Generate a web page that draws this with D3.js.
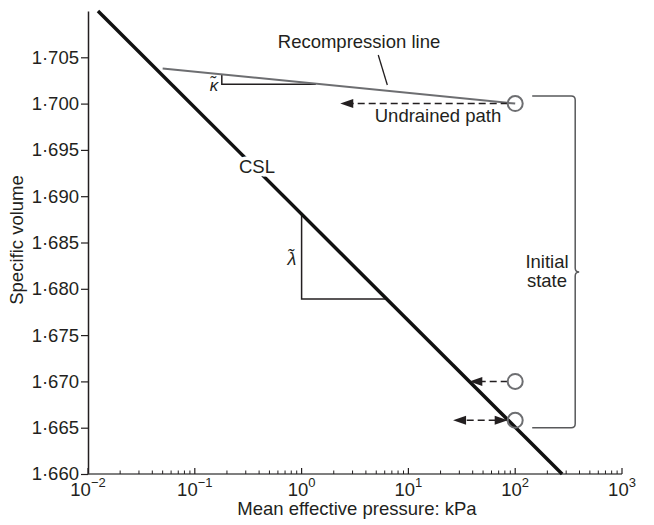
<!DOCTYPE html>
<html>
<head>
<meta charset="utf-8">
<script src="https://cdn.jsdelivr.net/npm/d3@7"></script>
<style>
  html, body { margin: 0; padding: 0; background: #fff; }
  svg text { font-family: "Liberation Sans", Arial, sans-serif; fill: #231f20; }
</style>
</head>
<body>
<svg id="chart" width="654" height="525"></svg>
<script>
// ---- data (p in kPa, v = specific volume) ----
const xTickValues = [0.01, 0.1, 1, 10, 100, 1000];
const xTickExponents = ["\u22122", "\u22121", "0", "1", "2", "3"];
const yTickValues = [1.660, 1.665, 1.670, 1.675, 1.680, 1.685, 1.690, 1.695, 1.700, 1.705];
const cslLine = [{p: 0.0124, v: 1.710}, {p: 275, v: 1.660}];
const recompressionLine = [{p: 0.05, v: 1.7038}, {p: 100, v: 1.700}];
const lambdaTriangle = [{p: 1, v: 1.6881}, {p: 1, v: 1.6789}, {p: 6.26, v: 1.6789}];
const kappaTriangle = [{p: 0.179, v: 1.70316}, {p: 0.179, v: 1.70209}, {p: 1.36, v: 1.70209}];
const initialStates = [{p: 100, v: 1.700}, {p: 100, v: 1.670}, {p: 100, v: 1.6658}];
// arrows: from (p0) to (p1) at level v; heads at start/end
const arrowPaths = [
  {p0: 100, p1: 2.3, v: 1.700, headStart: false, headEnd: true},
  {p0: 100, p1: 37.2, v: 1.670, headStart: false, headEnd: true},
  {p0: 100, p1: 26.2, v: 1.6658, headStart: true, headEnd: true}
];
const recompLeader = [{p: 5.22, v: 1.70525}, {p: 6.35, v: 1.70201}];

// ---- layout ----
const svg = d3.select("#chart");
const x = d3.scaleLog().domain([0.01, 1000]).range([88, 622]);
const y = d3.scaleLinear().domain([1.660, 1.710]).range([474, 11]);
const FS = 18.5;
const R = 7.5;

// axes
const yAxis = d3.axisLeft(y).tickValues(yTickValues)
  .tickFormat(d => d3.format(".3f")(d).replace(".", "\u00B7"))
  .tickSizeInner(7).tickSizeOuter(0).tickPadding(2);
const gy = svg.append("g").attr("transform", `translate(${x.range()[0]},0)`).call(yAxis);
gy.select(".domain").attr("stroke", "#231f20").attr("stroke-width", 1.5);
gy.selectAll(".tick line").attr("stroke", "#231f20").attr("stroke-width", 1.2);
gy.selectAll(".tick text").attr("font-size", FS).attr("fill", "#231f20")
  .attr("font-family", "Liberation Sans, Arial, sans-serif");

// x axis: line + inward ticks
const gx = svg.append("g");
gx.append("line").attr("x1", x.range()[0]).attr("x2", x.range()[1])
  .attr("y1", y(1.660)).attr("y2", y(1.660)).attr("stroke", "#555").attr("stroke-width", 1.5);
const minorTicks = x.ticks().filter(d => xTickValues.indexOf(d) < 0);
gx.selectAll(".minor").data(minorTicks).join("line")
  .attr("x1", d => x(d)).attr("x2", d => x(d))
  .attr("y1", y(1.660)).attr("y2", y(1.660) - 3.5)
  .attr("stroke", "#231f20").attr("stroke-width", 1);
gx.selectAll(".major").data(xTickValues).join("line")
  .attr("x1", d => x(d)).attr("x2", d => x(d))
  .attr("y1", y(1.660)).attr("y2", y(1.660) - 6)
  .attr("stroke", "#231f20").attr("stroke-width", 1.2);
const xl = gx.selectAll(".xlab").data(xTickValues).join("text")
  .attr("x", d => x(d)).attr("y", 496).attr("text-anchor", "middle").attr("font-size", FS);
xl.append("tspan").text("10");
xl.append("tspan").attr("dy", -9).attr("font-size", 13).text((d, i) => xTickExponents[i]);

// axis titles
svg.append("text").attr("x", 357).attr("y", 515).attr("text-anchor", "middle")
  .attr("font-size", FS).text("Mean effective pressure: kPa");
svg.append("text").attr("transform", "translate(23,240) rotate(-90)").attr("text-anchor", "middle")
  .attr("font-size", FS).text("Specific volume");

const line = d3.line().x(d => x(d.p)).y(d => y(d.v));

// triangles
svg.append("path").attr("d", line(lambdaTriangle)).attr("fill", "none")
  .attr("stroke", "#231f20").attr("stroke-width", 1.5);
svg.append("path").attr("d", line(kappaTriangle)).attr("fill", "none")
  .attr("stroke", "#231f20").attr("stroke-width", 1.5);

// recompression line
svg.append("path").attr("d", line(recompressionLine)).attr("fill", "none")
  .attr("stroke", "#6d6e71").attr("stroke-width", 2);
svg.append("path").attr("d", line(recompLeader)).attr("fill", "none")
  .attr("stroke", "#231f20").attr("stroke-width", 1.3);

// CSL
svg.append("path").attr("d", line(cslLine)).attr("fill", "none")
  .attr("stroke", "#111").attr("stroke-width", 3.5);

// arrows
function head(px, py, dir) {
  const L = 13, W = 4.5;
  return `M${px},${py}L${px - dir * L},${py - W}L${px - dir * L},${py + W}Z`;
}
arrowPaths.forEach(a => {
  const xs = x(a.p0) - R, xe = x(a.p1), yy = y(a.v);
  const dirEnd = xe < xs ? -1 : 1;
  const lineStart = a.headStart ? xs + dirEnd * 12 : xs;
  const lineEnd = a.headEnd ? xe - dirEnd * 10 : xe;
  svg.append("line").attr("x1", lineStart).attr("x2", lineEnd).attr("y1", yy).attr("y2", yy)
    .attr("stroke", "#231f20").attr("stroke-width", 1.5).attr("stroke-dasharray", "7,4");
  if (a.headEnd) svg.append("path").attr("d", head(xe, yy, dirEnd)).attr("fill", "#231f20");
  if (a.headStart) svg.append("path").attr("d", head(xs, yy, -dirEnd)).attr("fill", "#231f20");
});

// circles
svg.selectAll(".state").data(initialStates).join("circle")
  .attr("cx", d => x(d.p)).attr("cy", d => y(d.v)).attr("r", R)
  .attr("fill", "none").attr("stroke", "#6d6e71").attr("stroke-width", 2);

// brace
const bx0 = x(100) + 17, bx1 = x(100) + 60, btop = y(1.700) - R, bbot = y(1.6658) + R, bmid = 272;
svg.append("path").attr("d",
  `M${bx0},${btop}H${bx1 - 4}Q${bx1},${btop} ${bx1},${btop + 4}V${bmid - 4}Q${bx1},${bmid} ${bx1 + 4},${bmid}` +
  `Q${bx1},${bmid} ${bx1},${bmid + 4}V${bbot - 4}Q${bx1},${bbot} ${bx1 - 4},${bbot}H${bx0}`)
  .attr("fill", "none").attr("stroke", "#58595b").attr("stroke-width", 1.5);

// labels
svg.append("text").attr("x", 359).attr("y", 48).attr("text-anchor", "middle")
  .attr("font-size", FS).text("Recompression line");
svg.append("text").attr("x", 438).attr("y", 122).attr("text-anchor", "middle")
  .attr("font-size", FS).text("Undrained path");
svg.append("text").attr("x", 257).attr("y", 173).attr("text-anchor", "middle")
  .attr("font-size", FS).attr("stroke", "#fff").attr("stroke-width", 7)
  .attr("paint-order", "stroke").text("CSL");
svg.append("text").attr("x", 547).attr("y", 268).attr("text-anchor", "middle")
  .attr("font-size", FS).text("Initial");
svg.append("text").attr("x", 547).attr("y", 287).attr("text-anchor", "middle")
  .attr("font-size", FS).text("state");
svg.append("text").attr("x", 214).attr("y", 91).attr("text-anchor", "middle")
  .attr("font-size", 17).attr("font-style", "italic")
  .attr("font-family", "Liberation Serif, Times New Roman, serif").text("\u03BA\u0303");
svg.append("text").attr("x", 292).attr("y", 265).attr("text-anchor", "middle")
  .attr("font-size", 18).attr("font-style", "italic")
  .attr("font-family", "Liberation Serif, Times New Roman, serif").text("\u03BB\u0303");
</script>
</body>
</html>
